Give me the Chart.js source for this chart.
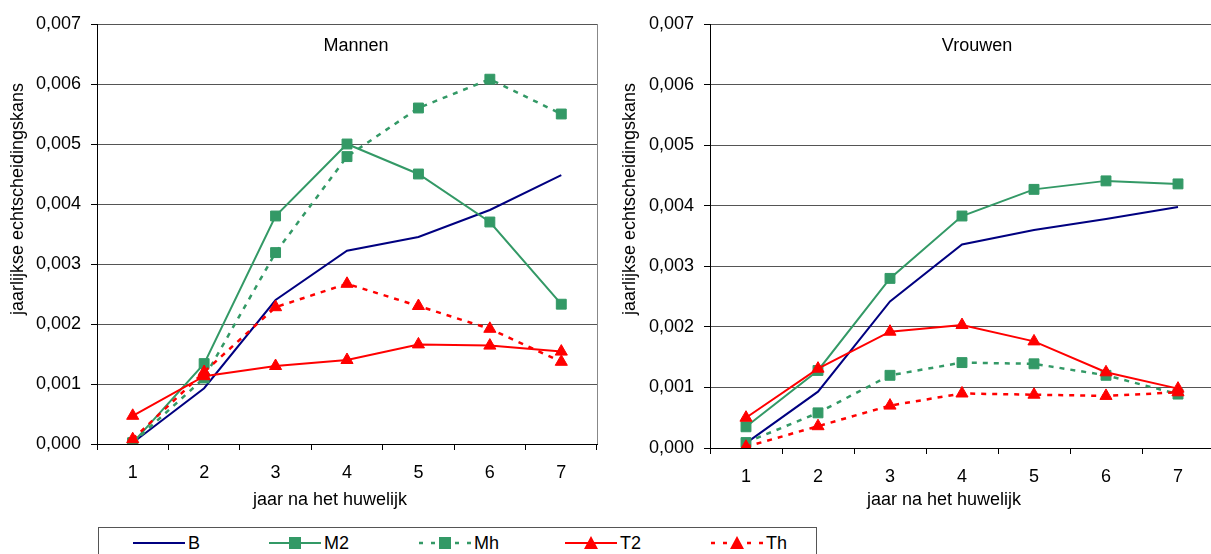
<!DOCTYPE html>
<html>
<head>
<meta charset="utf-8">
<script src="https://cdn.jsdelivr.net/npm/chart.js@4.4.1/dist/chart.umd.min.js"></script>
<style>
  body { margin: 0; width: 1211px; height: 554px; overflow: hidden; background: #fff; position: relative;
         font-family: 'Liberation Sans', Arial, sans-serif; }
  #mannen { position: absolute; left: 0; top: 0; }
  #vrouwen { position: absolute; left: 605px; top: 0; }
  #legend { position: absolute; left: 98px; top: 527px; width: 717px; height: 40px; border: 1px solid #555; }
  .item { position: absolute; top: 6px; height: 18px; display: flex; align-items: center; font-size: 18px; color: #000; }
  .item canvas { margin-right: 3px; }
</style>
</head>
<body>
<canvas id="mannen" width="605" height="520"></canvas>
<canvas id="vrouwen" width="620" height="520"></canvas>
<div id="legend"></div>
<script>
// jaar na het huwelijk
const years = ['1', '2', '3', '4', '5', '6', '7'];
const yTickLabels = ['0,000', '0,001', '0,002', '0,003', '0,004', '0,005', '0,006', '0,007'];
const seriesNames = ['B', 'M2', 'Mh', 'T2', 'Th'];

// Mannen
const mannenB  = [0.00002, 0.00093, 0.00240, 0.00322, 0.00345, 0.00390, 0.00448];
const mannenM2 = [0.00002, 0.00134, 0.00380, 0.00500, 0.00450, 0.00370, 0.00233];
const mannenMh = [0.00002, 0.00110, 0.00319, 0.00479, 0.00560, 0.00608, 0.00550];
const mannenT2 = [0.00047, 0.00113, 0.00130, 0.00140, 0.00166, 0.00164, 0.00154];
const mannenTh = [0.00008, 0.00120, 0.00228, 0.00267, 0.00230, 0.00192, 0.00137];

// Vrouwen
const vrouwenB  = [0.00008, 0.00093, 0.00242, 0.00336, 0.00360, 0.00378, 0.00398];
const vrouwenM2 = [0.00035, 0.00128, 0.00280, 0.00383, 0.00427, 0.00441, 0.00436];
const vrouwenMh = [0.00009, 0.00058, 0.00120, 0.00141, 0.00139, 0.00120, 0.00089];
const vrouwenT2 = [0.00050, 0.00131, 0.00192, 0.00203, 0.00176, 0.00125, 0.00098];
const vrouwenTh = [0.00002, 0.00036, 0.00070, 0.00090, 0.00088, 0.00086, 0.00092];

// styles per series
const colors = ['#000080', '#339966', '#339966', '#ff0000', '#ff0000'];
const dashes = [[], [], [5, 6], [], [5, 6]];
const widths = [2, 2, 2.5, 2, 2.5];
const markers = [false, 'rect', 'rect', 'triangle', 'triangle'];

const FONT = '"Liberation Sans", Arial, sans-serif';
Chart.defaults.font.family = FONT;
Chart.defaults.font.size = 18;
Chart.defaults.color = '#000';

function makeDatasets(values) {
  return seriesNames.map((name, i) => ({
    label: name,
    data: values[i],
    borderColor: colors[i],
    backgroundColor: colors[i],
    borderWidth: widths[i],
    borderDash: dashes[i],
    pointStyle: markers[i] || 'circle',
    pointRadius: markers[i] ? 7 : 0,
    pointBorderWidth: 1,
    pointBorderColor: colors[i],
    pointBackgroundColor: colors[i],
    tension: 0,
    order: seriesNames.length - i
  }));
}

// draws panel title, axis titles and the right frame line
const panelText = {
  id: 'panelText',
  afterDraw(chart, args, o) {
    const { ctx, chartArea } = chart;
    ctx.save();
    ctx.font = '18px ' + FONT;
    ctx.fillStyle = '#000';
    ctx.textAlign = 'center';
    ctx.textBaseline = 'middle';
    ctx.fillText(o.title, (chartArea.left + chartArea.right) / 2 + o.titleDx, chartArea.top + 22);
    ctx.fillText(o.xTitle, o.xTitleX, o.xTitleY);
    if (o.rightFrame) {
      ctx.strokeStyle = '#888';
      ctx.lineWidth = 1;
      ctx.beginPath();
      ctx.moveTo(chartArea.right + 0.5, chartArea.top);
      ctx.lineTo(chartArea.right + 0.5, chartArea.bottom);
      ctx.stroke();
    }
    ctx.translate(o.yTitleX, o.yTitleY);
    ctx.rotate(-Math.PI / 2);
    ctx.fillText(o.yTitle, 0, 0);
    ctx.restore();
  }
};

function makeChart(id, values, cfg) {
  return new Chart(document.getElementById(id), {
    type: 'line',
    data: { labels: years, datasets: makeDatasets(values) },
    options: {
      responsive: false,
      animation: false,
      layout: { padding: { top: 24, right: cfg.padRight, left: 0, bottom: 0 } },
      plugins: {
        legend: { display: false },
        tooltip: { enabled: false },
        panelText: cfg.text
      },
      scales: {
        x: {
          offset: true,
          grid: { offset: true, drawOnChartArea: false, tickLength: 6, tickColor: '#000' },
          border: { color: '#000', width: 1 },
          ticks: { padding: 12, maxRotation: 0 },
          afterFit: s => { s.height = cfg.xHeight; }
        },
        y: {
          min: 0,
          max: 0.007,
          grid: { color: '#555', tickLength: 6, tickColor: '#000' },
          border: { color: '#000', width: 1 },
          ticks: { stepSize: 0.001, padding: 10, callback: (v, i) => yTickLabels[i] },
          afterFit: s => { s.width = cfg.yWidth; }
        }
      }
    },
    plugins: [panelText]
  });
}

makeChart('mannen', [mannenB, mannenM2, mannenMh, mannenT2, mannenTh], {
  padRight: 5, xHeight: 76, yWidth: 97,
  text: { title: 'Mannen', titleDx: 9, xTitle: 'jaar na het huwelijk', xTitleX: 330, xTitleY: 500,
          yTitle: 'jaarlijkse echtscheidingskans', yTitleX: 18, yTitleY: 199, rightFrame: true }
});

makeChart('vrouwen', [vrouwenB, vrouwenM2, vrouwenMh, vrouwenT2, vrouwenTh], {
  padRight: 11, xHeight: 72, yWidth: 105,
  text: { title: 'Vrouwen', titleDx: 15, xTitle: 'jaar na het huwelijk', xTitleX: 339, xTitleY: 500,
          yTitle: 'jaarlijkse echtscheidingskans', yTitleX: 25, yTitleY: 199, rightFrame: false }
});

// shared legend
const legendLeft = [34, 170, 320, 466, 612];
const legend = document.getElementById('legend');
seriesNames.forEach((name, i) => {
  const item = document.createElement('div');
  item.className = 'item';
  item.style.left = legendLeft[i] + 'px';
  const c = document.createElement('canvas');
  c.width = 52; c.height = 18;
  const g = c.getContext('2d');
  g.strokeStyle = colors[i];
  g.fillStyle = colors[i];
  g.lineWidth = widths[i];
  g.setLineDash(dashes[i].length ? [4, 8] : []);
  g.beginPath(); g.moveTo(0, 9); g.lineTo(52, 9); g.stroke();
  g.setLineDash([]);
  if (markers[i] === 'rect') g.fillRect(20, 3, 12, 12);
  if (markers[i] === 'triangle') {
    g.beginPath(); g.moveTo(26, 2); g.lineTo(33, 15); g.lineTo(19, 15); g.closePath(); g.fill();
  }
  item.appendChild(c);
  const t = document.createElement('span');
  t.textContent = name;
  item.appendChild(t);
  legend.appendChild(item);
});
</script>
</body>
</html>
